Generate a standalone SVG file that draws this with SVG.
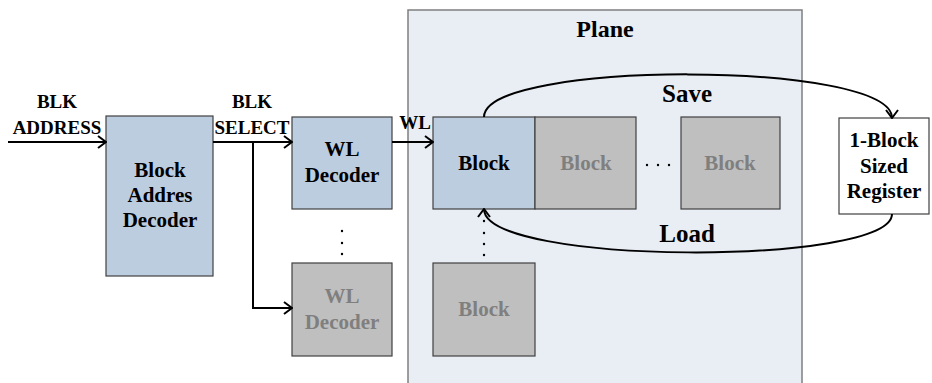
<svg xmlns="http://www.w3.org/2000/svg" width="932" height="383" viewBox="0 0 932 383">
<style>
.t{font-family:'Liberation Serif',serif;font-weight:bold;text-anchor:middle;fill:#000}
.lbl{font-size:19px}
.bt{font-size:21px}
.big{font-size:25px}
.gt{fill:#7f7f7f}
.blue{fill:#bccde0;stroke:#404040;stroke-width:1.2}
.gray{fill:#bfbfbf;stroke:#404040;stroke-width:1.2}
.wire{fill:none;stroke:#000;stroke-width:2}
.dot{fill:#000}
</style>
<defs>
<marker id="arr" viewBox="0 0 10 14" refX="9" refY="7" markerWidth="10" markerHeight="14" markerUnits="userSpaceOnUse" orient="auto">
<path d="M1,1 L9,7 L1,13" fill="none" stroke="#000" stroke-width="2"/>
</marker>
</defs>
<rect width="932" height="383" fill="#fff"/>
<g id="plane">
<rect x="408" y="10" width="394" height="390" fill="#e9eef5" stroke="#7f7f7f" stroke-width="1.5"/>
<text class="t" font-family="Liberation Serif" x="605" y="37" font-size="24">Plane</text>
</g>
<g id="bad">
<rect class="blue" x="106" y="116" width="107" height="160"/>
<text class="t bt" font-family="Liberation Serif" x="160" y="177">Block</text>
<text class="t bt" font-family="Liberation Serif" x="160" y="202">Addres</text>
<text class="t bt" font-family="Liberation Serif" x="160" y="227">Decoder</text>
</g>
<g id="wl1">
<rect class="blue" x="292" y="117" width="100" height="92"/>
<text class="t bt" font-family="Liberation Serif" x="342" y="156">WL</text>
<text class="t bt" font-family="Liberation Serif" x="342" y="182">Decoder</text>
</g>
<g id="wl2">
<rect class="gray" x="292" y="263" width="100" height="93"/>
<text class="t bt gt" font-family="Liberation Serif" x="342" y="303">WL</text>
<text class="t bt gt" font-family="Liberation Serif" x="342" y="329">Decoder</text>
</g>
<g id="blk1">
<rect class="blue" x="433" y="117" width="102" height="92"/>
<text class="t bt" font-family="Liberation Serif" x="484" y="170">Block</text>
</g>
<g id="blk2">
<rect class="gray" x="535" y="117" width="101" height="92"/>
<text class="t bt gt" font-family="Liberation Serif" x="586" y="170">Block</text>
</g>
<g id="blk3">
<rect class="gray" x="681" y="117" width="99" height="92"/>
<text class="t bt gt" font-family="Liberation Serif" x="730" y="170">Block</text>
</g>
<g id="blk4">
<rect class="gray" x="433" y="263" width="102" height="93"/>
<text class="t bt gt" font-family="Liberation Serif" x="484" y="316">Block</text>
</g>
<g id="reg">
<rect x="839" y="118" width="90" height="96" fill="#fff" stroke="#404040" stroke-width="1.2"/>
<text class="t bt" font-family="Liberation Serif" x="884" y="147">1-Block</text>
<text class="t bt" font-family="Liberation Serif" x="884" y="173">Sized</text>
<text class="t bt" font-family="Liberation Serif" x="884" y="198">Register</text>
</g>
<g id="labels">
<text class="t lbl" font-family="Liberation Serif" x="57" y="108">BLK</text>
<text class="t lbl" font-family="Liberation Serif" x="57" y="134">ADDRESS</text>
<text class="t lbl" font-family="Liberation Serif" x="252" y="108">BLK</text>
<text class="t lbl" font-family="Liberation Serif" x="252" y="134">SELECT</text>
<text class="t lbl" font-family="Liberation Serif" x="415" y="129">WL</text>
<text class="t big" font-family="Liberation Serif" x="687" y="102">Save</text>
<text class="t big" font-family="Liberation Serif" x="687" y="242">Load</text>
</g>
<g id="dots">
<circle class="dot" cx="342" cy="231" r="1.2"/>
<circle class="dot" cx="342" cy="243" r="1.2"/>
<circle class="dot" cx="342" cy="254" r="1.2"/>
<circle class="dot" cx="484" cy="221" r="1.2"/>
<circle class="dot" cx="484" cy="233" r="1.2"/>
<circle class="dot" cx="484" cy="244" r="1.2"/>
<circle class="dot" cx="484" cy="255" r="1.2"/>
<circle class="dot" cx="647" cy="165" r="1.2"/>
<circle class="dot" cx="658" cy="165" r="1.2"/>
<circle class="dot" cx="669" cy="165" r="1.2"/>
</g>
<g id="connectors">
<path class="wire" d="M8,142 H106" marker-end="url(#arr)"/>
<path class="wire" d="M213,142 H292" marker-end="url(#arr)"/>
<path class="wire" d="M253,142 V308 H292" marker-end="url(#arr)"/>
<path class="wire" d="M392,142 H433" marker-end="url(#arr)"/>
<path class="wire" d="M484,117 C484,60 892,60 892,118" marker-end="url(#arr)"/>
<path class="wire" d="M892,214 C892,266 484,266 484,209" marker-end="url(#arr)"/>
</g>
</svg>
